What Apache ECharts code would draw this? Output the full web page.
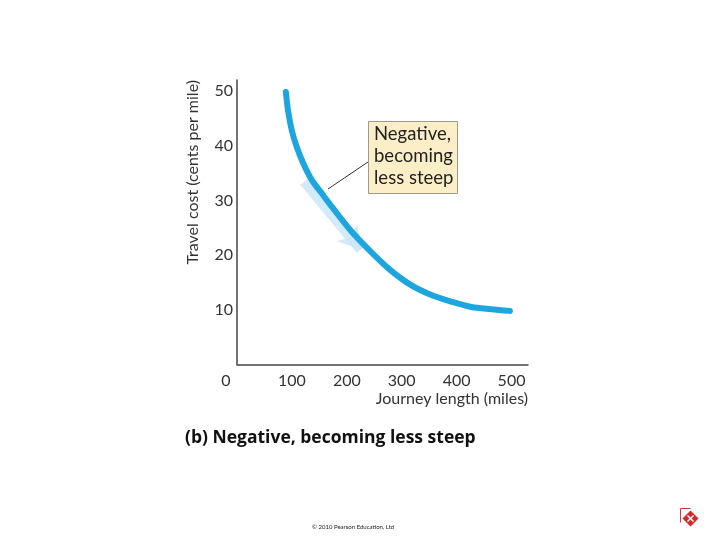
<!DOCTYPE html>
<html>
<head>
<meta charset="utf-8">
<script src="https://cdn.jsdelivr.net/npm/echarts@6/dist/echarts.min.js"></script>
<style>
  html, body { margin: 0; padding: 0; background: #fff; }
  #chart { width: 720px; height: 540px; }
</style>
</head>
<body>
<div id="chart"></div>
<script>
// journey length (miles) and travel cost (cents per mile)
var journeyLength = [89, 93, 100, 109, 121, 137, 155, 173, 207, 244, 280, 317, 354, 390, 427, 463, 497]
var travelCost = [49.8, 46.4, 42.7, 39.7, 36.7, 33.6, 31.2, 28.8, 24.5, 20.6, 17.2, 14.5, 12.7, 11.5, 10.5, 10.1, 9.8]
// direction arrow drawn along the curve: start and tip
var arrowFrom = [123, 33.5]
var arrowTo = [226, 21]
var noteLines = ['Negative,', 'becoming', 'less steep']
var captionText = '(b) Negative, becoming less steep'
var footerText = '\u00a9 2010 Pearson Education, Ltd'

var font = 'Lato, "DejaVu Sans", sans-serif'
var chart = echarts.init(document.getElementById('chart'))

chart.setOption({
  backgroundColor: '#fff',
  animation: false,
  grid: { left: 237, right: 192, top: 80, bottom: 175.5 },
  xAxis: {
    type: 'value',
    min: 0,
    max: 530,
    interval: 100,
    name: 'Journey length (miles)',
    nameLocation: 'end',
    nameGap: 0,
    nameTextStyle: {
      fontFamily: font, fontSize: 16, color: '#333',
      align: 'right', verticalAlign: 'top', padding: [26, 0, 0, 0]
    },
    splitLine: { show: false },
    axisTick: { show: false },
    axisLine: { lineStyle: { color: '#444', width: 1.5 } },
    axisLabel: {
      margin: 8,
      fontFamily: font, fontSize: 16, color: '#333',
      formatter: function (v) { return v === 0 ? '{z|0}' : String(v) },
      rich: { z: { fontFamily: font, fontSize: 16, color: '#333', padding: [0, 22, 0, 0] } }
    }
  },
  yAxis: {
    type: 'value',
    min: 0,
    max: 52,
    interval: 10,
    name: 'Travel cost (cents per mile)',
    nameLocation: 'end',
    nameRotate: 90,
    nameGap: 0,
    nameTextStyle: {
      fontFamily: font, fontSize: 16, color: '#333',
      align: 'right', verticalAlign: 'bottom', padding: [0, 0, 36, 0]
    },
    splitLine: { show: false },
    axisTick: { show: false },
    axisLine: { lineStyle: { color: '#444', width: 1.5 } },
    axisLabel: {
      margin: 4,
      showMinLabel: false,
      fontFamily: font, fontSize: 16, color: '#333'
    }
  },
  series: [
    {
      // light arrow behind the curve
      type: 'line',
      z: 1,
      data: [],
      markLine: {
        silent: true,
        z: 1,
        symbol: ['none', 'arrow'],
        symbolSize: [20, 22],
        label: { show: false },
        lineStyle: { color: '#cde8f8', width: 11, type: 'solid', opacity: 0.9 },
        data: [[{ coord: arrowFrom }, { coord: arrowTo }]]
      }
    },
    {
      type: 'line',
      z: 3,
      smooth: 0.3,
      showSymbol: false,
      lineStyle: { color: '#1ca5de', width: 6, cap: 'round' },
      data: journeyLength.map(function (x, i) { return [x, travelCost[i]] })
    }
  ],
  graphic: [
    // leader line to the note
    { type: 'line', shape: { x1: 368, y1: 162, x2: 328, y2: 189 }, style: { stroke: '#333', lineWidth: 1 } },
    {
      type: 'rect', left: 368, top: 121,
      shape: { width: 89, height: 72 },
      style: { fill: '#fcefc8', stroke: '#a09a8c', lineWidth: 1 }
    },
    {
      type: 'text', left: 374, top: 123,
      style: { text: noteLines.join('\n'), font: '18.5px ' + font, fill: '#222', lineHeight: 22 }
    },
    {
      type: 'text', left: 185, top: 429,
      style: { text: captionText, font: 'bold 17.5px "Open Sans", sans-serif', fill: '#111' }
    },
    {
      type: 'text', left: 312, top: 524,
      style: { text: footerText, font: '6px ' + font, fill: '#222' }
    },
    // small red publisher mark
    {
      type: 'group', left: 678, top: 506,
      children: [
        { type: 'polyline', shape: { points: [[0, 14], [0, 0], [10, 0]] }, style: { stroke: '#d83a3a', lineWidth: 1, fill: null } },
        { type: 'polygon', shape: { points: [[10, 2], [18, 10], [10, 18], [2, 10]] }, style: { fill: '#d62828' } },
        { type: 'line', shape: { x1: 7, y1: 7, x2: 13, y2: 13 }, style: { stroke: '#fff', lineWidth: 1.5 } },
        { type: 'line', shape: { x1: 13, y1: 7, x2: 7, y2: 13 }, style: { stroke: '#fff', lineWidth: 1.5 } }
      ]
    }
  ]
})
</script>
</body>
</html>
